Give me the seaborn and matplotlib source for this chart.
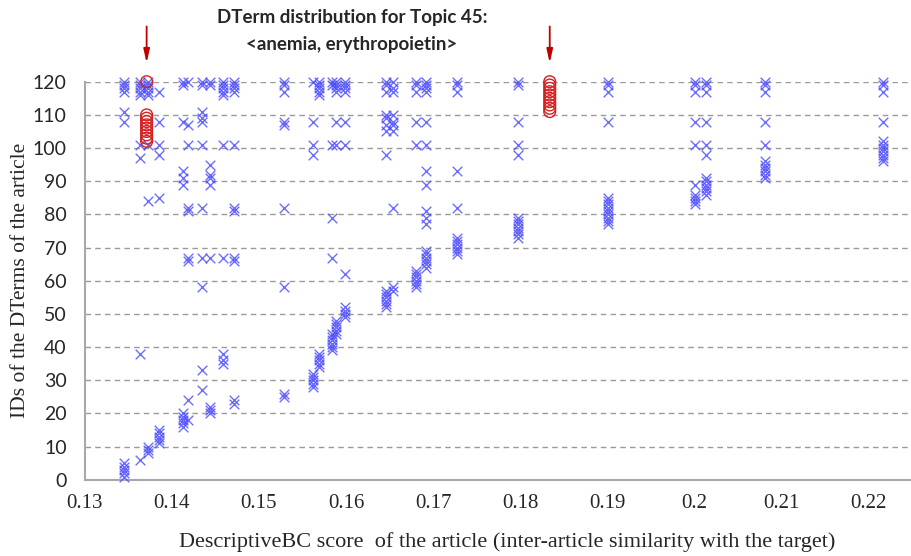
import pandas as pd
import matplotlib
matplotlib.use("Agg")
import matplotlib.pyplot as plt
import seaborn as sns

# puntajes DescriptiveBC de cada articulo y los IDs de sus DTerms
article_scores = [0.1345, 0.1363, 0.1373, 0.1385, 0.1413, 0.1418, 0.1435, 0.1444,
                  0.1459, 0.1471, 0.1529, 0.1562, 0.1569, 0.1584, 0.1589, 0.1599,
                  0.1646, 0.1654, 0.1680, 0.1692, 0.1728, 0.1797, 0.1901, 0.2001,
                  0.2013, 0.2081, 0.2217]
article_dterms = [
    [120, 119, 118, 117, 111, 108, 5, 4, 3, 2, 1],
    [120, 119, 118, 117, 116, 101, 97, 38, 6],
    [120, 119, 118, 117, 116, 101, 84, 10, 9, 8],
    [117, 108, 101, 98, 85, 15, 14, 13, 12, 11],
    [120, 119, 108, 93, 91, 89, 20, 19, 18, 17, 16],
    [120, 107, 101, 82, 81, 67, 66, 24, 18],
    [120, 119, 111, 109, 108, 101, 82, 67, 58, 33, 27],
    [120, 119, 95, 92, 91, 89, 67, 22, 21, 20],
    [120, 119, 118, 117, 116, 101, 67, 38, 36, 35],
    [120, 119, 118, 117, 101, 82, 81, 67, 66, 24, 23],
    [120, 119, 117, 108, 107, 82, 58, 26, 25],
    [120, 108, 101, 98, 32, 31, 30, 29, 28],
    [120, 119, 118, 117, 116, 38, 37, 36, 35, 34],
    [120, 119, 101, 79, 67, 44, 43, 42, 41, 40, 39],
    [120, 119, 118, 117, 108, 101, 48, 47, 46, 45, 44],
    [120, 119, 118, 117, 108, 101, 62, 52, 51, 50, 49],
    [120, 119, 117, 110, 109, 107, 105, 98, 57, 56, 55, 54, 53, 52],
    [120, 118, 117, 110, 108, 107, 105, 82, 58, 57],
    [120, 119, 117, 108, 101, 63, 62, 61, 60, 59, 58],
    [120, 119, 118, 117, 108, 101, 93, 89, 81, 79, 77, 69, 68, 67, 66, 65, 64],
    [120, 119, 117, 93, 82, 73, 72, 71, 70, 69, 68],
    [120, 119, 108, 101, 98, 79, 78, 77, 76, 75, 74, 73],
    [120, 119, 117, 108, 85, 84, 83, 82, 81, 80, 79, 78, 77],
    [120, 119, 117, 108, 101, 89, 86, 85, 84, 83],
    [120, 119, 117, 108, 101, 98, 91, 90, 89, 88, 87, 86],
    [120, 119, 117, 108, 101, 96, 95, 94, 93, 92, 91],
    [120, 119, 117, 108, 102, 101, 100, 99, 98, 97, 96],
]

# DTerms marcados con circulos rojos
marked_scores = [0.1371, 0.1834]
marked_dterms = [
    [120, 110, 109, 108, 107, 106, 105, 104, 103, 102],
    [120, 119, 118, 117, 116, 115, 114, 113, 112, 111],
]

x_ticks = [0.13, 0.14, 0.15, 0.16, 0.17, 0.18, 0.19, 0.20, 0.21, 0.22]
x_tick_labels = ["0.13", "0.14", "0.15", "0.16", "0.17", "0.18", "0.19", "0.2", "0.21", "0.22"]
y_ticks = list(range(0, 121, 10))

# armar tablas largas
filas = [(s, d) for s, ids in zip(article_scores, article_dterms) for d in ids]
df = pd.DataFrame(filas, columns=["score", "dterm"])
filas_m = [(s, d) for s, ids in zip(marked_scores, marked_dterms) for d in ids]
df_m = pd.DataFrame(filas_m, columns=["score", "dterm"])

sns.set_style("white")
fig, ax = plt.subplots(figsize=(9.12, 5.56), dpi=100)
fig.subplots_adjust(left=0.093, right=0.998, bottom=0.137, top=0.853)

sns.scatterplot(data=df, x="score", y="dterm", marker="x", color="#4848ff",
                s=48, linewidth=1.0, alpha=0.8, ax=ax, clip_on=False, zorder=3)
sns.scatterplot(data=df_m, x="score", y="dterm", marker="o", facecolor="none",
                edgecolor="#d42020", s=72, linewidth=1.0, ax=ax, clip_on=False, zorder=4)

ax.set_xlim(0.13, 0.2248)
ax.set_ylim(0, 120)
ax.set_xticks(x_ticks)
ax.set_xticklabels(x_tick_labels, fontfamily="Liberation Serif", fontsize=15)
ax.set_yticks(y_ticks)
ax.set_yticklabels([str(v) for v in y_ticks], fontfamily="Lato", fontsize=14)
ax.tick_params(axis="x", length=0, pad=10)
ax.tick_params(axis="y", length=0, pad=13)

ax.yaxis.grid(True, linestyle=(0, (4, 3)), color="#9a9a9a", linewidth=1.0)
ax.set_axisbelow(True)
for lado in ["top", "right"]:
    ax.spines[lado].set_visible(False)
for lado in ["left", "bottom"]:
    ax.spines[lado].set_color("#a8a8a8")
    ax.spines[lado].set_linewidth(1.5)

ax.set_xlabel("DescriptiveBC score  of the article (inter-article similarity with the target)",
              fontfamily="Liberation Serif", fontsize=16)
ax.set_ylabel("IDs of the DTerms of the article",
              fontfamily="Liberation Serif", fontsize=15.5)
ax.xaxis.set_label_coords(0.512, -0.132)
ax.yaxis.set_label_coords(-0.066, 0.5)

# flechas rojas sobre los articulos marcados
for s in marked_scores:
    ax.annotate("", xy=(s, 124.8), xytext=(s, 137.5), annotation_clip=False,
                arrowprops=dict(arrowstyle="-|>,head_length=0.8,head_width=0.18",
                                color="#c00000", lw=1.3))

fig.text(352 / 912, 1 - 18 / 556, "DTerm distribution for Topic 45:",
         ha="center", va="center", fontfamily="Lato", fontweight="bold", fontsize=13.5)
fig.text(352 / 912, 1 - 45 / 556, "<anemia, erythropoietin>",
         ha="center", va="center", fontfamily="Lato", fontweight="bold", fontsize=13.5)

fig.savefig("out.png", dpi=100)
